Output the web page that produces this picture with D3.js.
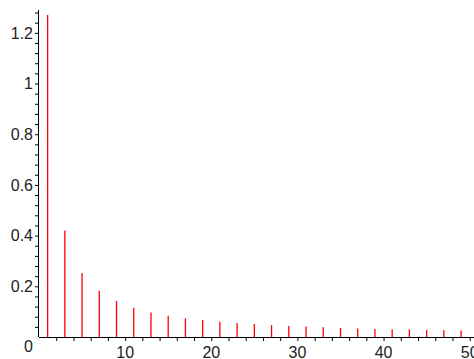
<!DOCTYPE html>
<html>
<head>
<meta charset="utf-8">
<script src="https://cdn.jsdelivr.net/npm/d3@7"></script>
<style>
  html, body { margin: 0; padding: 0; background: #fff; }
  svg { display: block; font-family: "Liberation Sans", Arial, sans-serif; }
</style>
</head>
<body>
<div id="chart"></div>
<script>
// odd harmonics and their amplitudes
const xs = [1, 3, 5, 7, 9, 11, 13, 15, 17, 19, 21, 23, 25, 27, 29, 31, 33, 35, 37, 39, 41, 43, 45, 47, 49];
const amps = [1.27, 0.42, 0.252, 0.182, 0.142, 0.115, 0.097, 0.084, 0.074, 0.067, 0.06, 0.055, 0.051, 0.047, 0.043, 0.041, 0.038, 0.036, 0.034, 0.032, 0.031, 0.03, 0.028, 0.027, 0.026];
const xLabels = [10, 20, 30, 40, 50];
const yLabels = [0.2, 0.4, 0.6, 0.8, 1, 1.2];

const width = 474, height = 359;
const svg = d3.select("#chart").append("svg")
  .attr("width", width)
  .attr("height", height);

const x = d3.scaleLinear().domain([0, 50.5]).range([39, 474]);
const y = d3.scaleLinear().domain([0, 1.29]).range([337, 10]);

const textColor = "#222";

// stems
svg.append("g")
  .selectAll("line")
  .data(xs.map((v, i) => ({ x: v, a: amps[i] })))
  .join("line")
    .attr("x1", d => x(d.x))
    .attr("x2", d => x(d.x))
    .attr("y1", y(0))
    .attr("y2", d => y(d.a))
    .attr("stroke", "#ff0000")
    .attr("stroke-width", 1.3);

// x axis: minor ticks every 2, labels every 10
const xAxis = svg.append("g")
  .attr("transform", `translate(0,${y(0)})`)
  .call(d3.axisBottom(x)
    .tickValues(d3.range(2, 51, 2))
    .tickSize(4)
    .tickSizeOuter(0)
    .tickFormat(""));
xAxis.select(".domain").attr("stroke", "#000").attr("d", `M${x(0)},0.5H${width}`);
xAxis.selectAll(".tick line").attr("stroke", "#000");

svg.append("g")
  .selectAll("text")
  .data(xLabels)
  .join("text")
    .attr("x", d => x(d))
    .attr("y", 358)
    .attr("text-anchor", "middle")
    .attr("font-size", 16)
    .attr("fill", textColor)
    .text(d => d);

// y axis: minor ticks every 0.04
const yAxis = svg.append("g")
  .attr("transform", `translate(${x(0)},0)`)
  .call(d3.axisLeft(y)
    .tickValues(d3.range(0.04, 1.29, 0.04))
    .tickSize(4)
    .tickSizeOuter(0)
    .tickFormat(""));
yAxis.select(".domain").attr("stroke", "#000").attr("d", `M-0.5,${y(0)}V${y.range()[1]}`);
yAxis.selectAll(".tick line").attr("stroke", "#000");

svg.append("g")
  .selectAll("text")
  .data(yLabels)
  .join("text")
    .attr("x", 33)
    .attr("y", d => y(d))
    .attr("dy", "0.36em")
    .attr("text-anchor", "end")
    .attr("font-size", 16)
    .attr("fill", textColor)
    .text(d => d);

svg.append("text")
  .attr("x", 33)
  .attr("y", 352)
  .attr("text-anchor", "end")
  .attr("font-size", 16)
  .attr("fill", textColor)
  .text("0");
</script>
</body>
</html>
